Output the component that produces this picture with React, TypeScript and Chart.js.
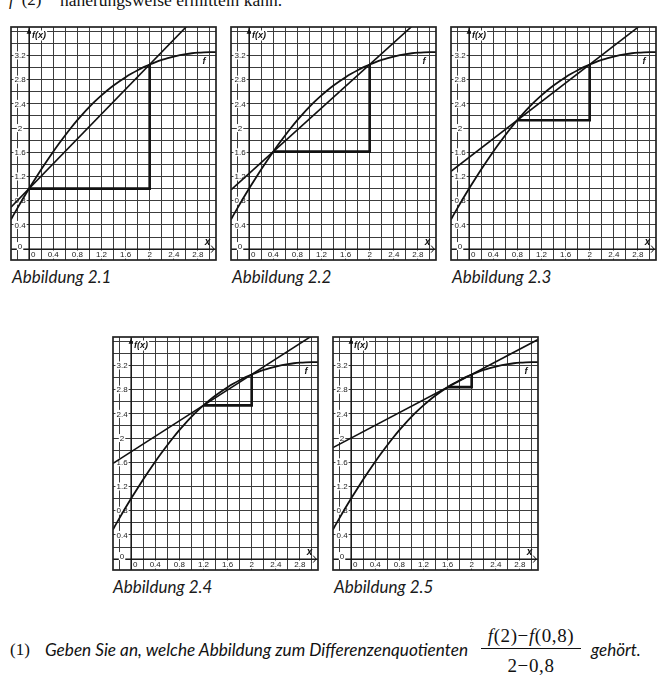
import React, { useEffect, useRef } from "react";
import { Chart, registerables } from "chart.js";
Chart.register(...registerables);

// ---- data ----
const curveX = [-0.3, -0.2, -0.1, 0, 0.1, 0.2, 0.3, 0.4, 0.5, 0.6, 0.7, 0.8, 0.9, 1.0, 1.1, 1.2, 1.3, 1.4, 1.5, 1.6, 1.7, 1.8, 1.9, 2.0, 2.1, 2.2, 2.3, 2.4, 2.5, 2.6, 2.7, 2.8, 2.9, 3.0, 3.1];
const curveY = [0.49, 0.665, 0.835, 1.0, 1.16, 1.315, 1.465, 1.61, 1.749, 1.882, 2.009, 2.13, 2.243, 2.349, 2.448, 2.54, 2.625, 2.703, 2.775, 2.841, 2.901, 2.956, 3.006, 3.051, 3.091, 3.126, 3.156, 3.182, 3.204, 3.222, 3.236, 3.246, 3.252, 3.255, 3.256];
const secantStarts = [0, 0.4, 0.8, 1.2, 1.6];
const secantEnd = 2;
const figureCaptions = ["Abbildung 2.1", "Abbildung 2.2", "Abbildung 2.3", "Abbildung 2.4", "Abbildung 2.5"];
const xTickLabels = ["0", "0.4", "0.8", "1.2", "1.6", "2", "2.4", "2.8"];
const yTickLabels = ["0", "0.4", "0.8", "1.2", "1.6", "2", "2.4", "2.8", "3.2"];

const X_MIN = -0.3, X_MAX = 3.1, Y_MIN = -0.18, Y_MAX = 3.67, GRID_STEP = 0.2;

// layout
const CANVAS_W = 211, CANVAS_H = 239, PAD = 3;
const panelPos = [[8, 24], [228, 24], [448, 24], [110, 334], [330, 334]];
const captionPos = [[12, 277], [232, 277], [452, 277], [113, 587], [334, 587]];

function fAt(xv: number): number {
  const i = curveX.findIndex((v) => Math.abs(v - xv) < 1e-9);
  return curveY[i];
}

function gridValues(min: number, max: number) {
  const out: { value: number }[] = [];
  const start = Math.ceil(min / GRID_STEP - 1e-9);
  const end = Math.floor(max / GRID_STEP + 1e-9);
  for (let k = start; k <= end; k++) out.push({ value: Math.round(k * GRID_STEP * 100) / 100 });
  return out;
}

const decorPlugin = {
  id: "decor",
  beforeDatasetsDraw(chart: any) {
    const { ctx, chartArea: a, scales } = chart;
    const x = scales.x, y = scales.y;
    ctx.save();
    const x0 = x.getPixelForValue(0), y0 = y.getPixelForValue(0);
    ctx.strokeStyle = "#111";
    ctx.lineWidth = 1.3;
    ctx.beginPath();
    ctx.moveTo(x0, a.top); ctx.lineTo(x0, a.bottom);
    ctx.moveTo(a.left, y0); ctx.lineTo(a.right, y0);
    ctx.stroke();

    ctx.font = '8px "Liberation Sans", Arial, sans-serif';
    ctx.textBaseline = "middle";
    ctx.textAlign = "center";
    for (const lab of yTickLabels) {
      const v = parseFloat(lab);
      const px = x.getPixelForValue(-0.15);
      const py = y.getPixelForValue(v === 0 ? 0.05 : v);
      const w = ctx.measureText(lab).width;
      ctx.fillStyle = "#fff";
      ctx.fillRect(px - w / 2 - 1, py - 4, w + 2, 8);
      ctx.fillStyle = "#222";
      ctx.fillText(lab, px, py + 0.5);
    }
    for (const lab of xTickLabels) {
      const v = parseFloat(lab);
      const px = x.getPixelForValue(v === 0 ? 0.07 : v);
      const py = y.getPixelForValue(-0.09);
      const w = ctx.measureText(lab).width;
      ctx.fillStyle = "#fff";
      ctx.fillRect(px - w / 2 - 1, py - 4, w + 2, 8);
      ctx.fillStyle = "#222";
      ctx.fillText(lab, px, py + 0.5);
    }
    ctx.restore();
  },
  afterDatasetsDraw(chart: any) {
    const { ctx, chartArea: a, scales } = chart;
    const x = scales.x, y = scales.y;
    ctx.save();
    const x0 = x.getPixelForValue(0), y0 = y.getPixelForValue(0);
    // y arrow
    const tip = y.getPixelForValue(3.64);
    ctx.fillStyle = "#111";
    ctx.beginPath();
    ctx.moveTo(x0, tip);
    ctx.lineTo(x0 - 2.5, tip + 5);
    ctx.lineTo(x0 + 2.5, tip + 5);
    ctx.closePath();
    ctx.fill();
    // x arrow chevron
    const tx = x.getPixelForValue(3.07);
    ctx.strokeStyle = "#111";
    ctx.lineWidth = 1;
    ctx.beginPath();
    ctx.moveTo(tx - 3, y0 - 3.5);
    ctx.lineTo(tx, y0);
    ctx.lineTo(tx - 3, y0 + 3.5);
    ctx.stroke();
    // labels
    ctx.fillStyle = "#111";
    ctx.textBaseline = "middle";
    ctx.font = 'italic bold 9px "Liberation Sans", Arial, sans-serif';
    ctx.textAlign = "left";
    const fxW = ctx.measureText("f(x)").width;
    ctx.fillStyle = "#fff";
    ctx.fillRect(x0 + 2, y.getPixelForValue(3.53) - 5, fxW + 2, 10);
    ctx.fillStyle = "#111";
    ctx.fillText("f(x)", x0 + 3, y.getPixelForValue(3.53));
    ctx.textAlign = "center";
    ctx.fillText("f", x.getPixelForValue(2.9), y.getPixelForValue(3.1));
    ctx.font = 'italic bold 10px "Liberation Sans", Arial, sans-serif';
    ctx.fillText("x", x.getPixelForValue(2.96), y.getPixelForValue(0.11));
    // frame
    ctx.strokeStyle = "#222";
    ctx.lineWidth = 1.7;
    ctx.strokeRect(a.left, a.top, a.right - a.left, a.bottom - a.top);
    ctx.restore();
  },
};

function Panel({ idx }: { idx: number }) {
  const ref = useRef<HTMLCanvasElement | null>(null);
  useEffect(() => {
    if (!ref.current) return;
    const xs = secantStarts[idx];
    const ys = fAt(xs);
    const ye = fAt(secantEnd);
    const m = (ye - ys) / (secantEnd - xs);
    const curve = curveX.map((v, i) => ({ x: v, y: curveY[i] }));
    const secant = [
      { x: X_MIN, y: ys + m * (X_MIN - xs) },
      { x: X_MAX, y: ys + m * (X_MAX - xs) },
    ];
    const triangle = [
      { x: xs, y: ys },
      { x: secantEnd, y: ys },
      { x: secantEnd, y: ye },
    ];
    const common = { showLine: true, pointRadius: 0, borderColor: "#111", fill: false, clip: 0 };
    const chart = new Chart(ref.current, {
      type: "scatter",
      data: {
        datasets: [
          { ...common, data: curve, borderWidth: 1.8, cubicInterpolationMode: "monotone" },
          { ...common, data: secant, borderWidth: 1.6, tension: 0 },
          { ...common, data: triangle, borderWidth: 2.6, tension: 0, borderJoinStyle: "miter" },
        ] as any,
      },
      options: {
        animation: false,
        responsive: false,
        devicePixelRatio: 1,
        events: [],
        layout: { padding: PAD },
        plugins: { legend: { display: false }, tooltip: { enabled: false } },
        scales: {
          x: {
            type: "linear",
            min: X_MIN,
            max: X_MAX,
            afterBuildTicks: (axis: any) => { axis.ticks = gridValues(X_MIN, X_MAX); },
            ticks: { display: false },
            grid: { color: "#3c3c3c", lineWidth: 1, drawTicks: false },
            border: { display: false },
          },
          y: {
            type: "linear",
            min: Y_MIN,
            max: Y_MAX,
            afterBuildTicks: (axis: any) => { axis.ticks = gridValues(Y_MIN, Y_MAX); },
            ticks: { display: false },
            grid: { color: "#3c3c3c", lineWidth: 1, drawTicks: false },
            border: { display: false },
          },
        },
      } as any,
      plugins: [decorPlugin],
    });
    return () => chart.destroy();
  }, [idx]);
  const [l, t] = panelPos[idx];
  return (
    <canvas
      ref={ref}
      width={CANVAS_W}
      height={CANVAS_H}
      style={{ position: "absolute", left: l, top: t, width: CANVAS_W, height: CANVAS_H }}
    />
  );
}

const serif = '"Liberation Serif", "Times New Roman", serif';
const italicSans = 'Lato, "Open Sans", sans-serif';

export default function App() {
  return (
    <div style={{ position: "absolute", left: 0, top: 0, width: 661, height: 684, background: "#fff", overflow: "hidden" }}>
      <div style={{ position: "absolute", left: 9, top: -10, fontFamily: serif, fontSize: 17, lineHeight: "20px", whiteSpace: "nowrap", color: "#111" }}>
        <i>f</i>&nbsp;′(2)
      </div>
      <div style={{ position: "absolute", left: 60, top: -10, fontFamily: serif, fontSize: 17.5, lineHeight: "20px", whiteSpace: "nowrap", color: "#111" }}>
        näherungsweise ermitteln kann.
      </div>
      {[0, 1, 2, 3, 4].map((i) => <Panel key={i} idx={i} />)}
      {figureCaptions.map((c, i) => (
        <div key={c} style={{ position: "absolute", left: captionPos[i][0], top: captionPos[i][1] - 11, fontFamily: italicSans, fontStyle: "italic", fontSize: 17, lineHeight: "22px", whiteSpace: "nowrap", color: "#1a1a1a" }}>
          {c}
        </div>
      ))}
      <div style={{ position: "absolute", left: 10, top: 640, fontFamily: serif, fontSize: 17, lineHeight: "20px", color: "#111" }}>(1)</div>
      <div style={{ position: "absolute", left: 45, top: 639, fontFamily: italicSans, fontStyle: "italic", fontSize: 17.2, lineHeight: "22px", whiteSpace: "nowrap", color: "#111" }}>
        Geben Sie an, welche Abbildung zum Differenzenquotienten
      </div>
      <div style={{ position: "absolute", left: 476, top: 626, width: 110, textAlign: "center", fontFamily: serif, fontSize: 19, lineHeight: "20px", letterSpacing: 0.6, whiteSpace: "nowrap", color: "#111" }}>
        <i>f</i>(2)−<i>f</i>(0,8)
      </div>
      <div style={{ position: "absolute", left: 481, top: 648, width: 100, height: 1, background: "#111" }} />
      <div style={{ position: "absolute", left: 476, top: 656, width: 110, textAlign: "center", fontFamily: serif, fontSize: 19, lineHeight: "20px", letterSpacing: 0.6, whiteSpace: "nowrap", color: "#111" }}>
        2−0,8
      </div>
      <div style={{ position: "absolute", left: 591, top: 639, fontFamily: italicSans, fontStyle: "italic", fontSize: 17, lineHeight: "22px", whiteSpace: "nowrap", color: "#111" }}>
        gehört.
      </div>
    </div>
  );
}
